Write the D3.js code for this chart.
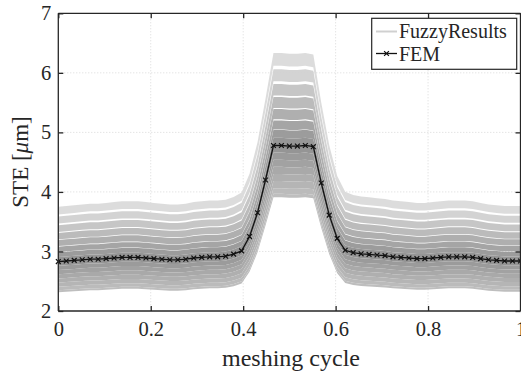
<html>
<head>
<meta charset="utf-8">
<title>STE fuzzy</title>
<script src="https://cdn.jsdelivr.net/npm/d3@7/dist/d3.min.js"></script>
<style>
  html, body { margin: 0; padding: 0; background: #fff; }
  svg text { font-family: "Liberation Serif", "Times New Roman", serif; fill: #262626; }
</style>
</head>
<body>
<svg width="521" height="376" id="mainsvg"></svg>
<script>
// FEM static transmission error over one meshing cycle (59 samples, 0..1)
const femSTE = [2.83,2.84,2.85,2.86,2.87,2.87,2.88,2.89,2.90,2.90,2.90,2.89,2.88,2.87,2.86,2.86,2.87,2.89,2.90,2.91,
                2.91,2.92,2.955,3.01,3.25,3.65,4.20,4.78,4.78,4.77,4.77,4.78,4.76,4.15,3.61,3.22,3.02,2.98,2.96,2.95,
                2.94,2.93,2.91,2.90,2.89,2.88,2.88,2.89,2.90,2.91,2.91,2.91,2.90,2.88,2.86,2.85,2.84,2.84,2.84];
// fuzzy result strips, as lower / upper factor of the FEM curve (outer -> inner)
const fuzzyLow  = [1.280,1.226,1.176,1.132,1.092,1.057,1.027,1.000, 0.975,0.950,0.925,0.900,0.875,0.850,0.830,0.818];
const fuzzyHigh = [1.325,1.268,1.216,1.170,1.128,1.088,1.055,1.027, 1.000,0.975,0.950,0.925,0.900,0.875,0.850,0.830];
const xTicks = [0, 0.2, 0.4, 0.6, 0.8, 1];
const yTicks = [2, 3, 4, 5, 6, 7];

const svg = d3.select('#mainsvg');
const x = d3.scaleLinear().domain([0, 1]).range([58.3, 520.5]);
const y = d3.scaleLinear().domain([2, 7]).range([311, 13.3]);
const cyc = femSTE.map((d, i) => i / (femSTE.length - 1));
const axisCol = '#262626';

// grid
const grid = svg.append('g');
grid.selectAll('.gx').data(xTicks.slice(1, -1)).join('line')
  .attr('x1', d => x(d)).attr('x2', d => x(d)).attr('y1', y(7)).attr('y2', y(2))
  .attr('stroke', '#d9d9d9').attr('stroke-width', 1).attr('stroke-dasharray', '1,2');
grid.selectAll('.gy').data(yTicks.slice(1, -1)).join('line')
  .attr('y1', d => y(d)).attr('y2', d => y(d)).attr('x1', x(0)).attr('x2', x(1))
  .attr('stroke', '#d9d9d9').attr('stroke-width', 1).attr('stroke-dasharray', '1,2');

// fuzzy strips
const shade = d3.scaleLinear().domain([0.02, 0.3]).range(['#8e8e8e', '#dadada']).clamp(true);
const strips = fuzzyLow.map((lo, k) => ({lo: lo, hi: fuzzyHigh[k]}));
const area = (s) => d3.area()
  .x((d, i) => x(cyc[i]))
  .y0(d => y(d * s.lo))
  .y1(d => y(d * s.hi))(femSTE);
svg.append('g').selectAll('path').data(strips).join('path')
  .attr('d', s => area(s))
  .attr('fill', s => shade(Math.max(Math.abs(s.lo - 1), Math.abs(s.hi - 1))))
  .attr('fill-opacity', 0.95);

// FEM curve
const line = d3.line().x((d, i) => x(cyc[i])).y(d => y(d));
svg.append('path').datum(femSTE).attr('d', line)
  .attr('fill', 'none').attr('stroke', '#111').attr('stroke-width', 1.3);
const cross = 'M-2.4,-2.4L2.4,2.4M-2.4,2.4L2.4,-2.4';
svg.append('g').selectAll('path').data(femSTE).join('path')
  .attr('transform', (d, i) => `translate(${x(cyc[i])},${y(d)})`)
  .attr('d', cross).attr('stroke', '#111').attr('stroke-width', 1.2).attr('fill', 'none');

// axes box
const xAxis = d3.axisBottom(x).tickValues(xTicks).tickSize(-5).tickPadding(10)
  .tickFormat(d => d === 0 ? '0' : d === 1 ? '1' : d3.format('.1f')(d));
const yAxis = d3.axisLeft(y).tickValues(yTicks).tickSize(-5).tickPadding(7).tickFormat(d3.format('d'));
const gx = svg.append('g').attr('transform', `translate(0,${y(2)})`).call(xAxis);
const gy = svg.append('g').attr('transform', `translate(${x(0)},0)`).call(yAxis);
const gxt = svg.append('g').attr('transform', `translate(0,${y(7)})`).call(d3.axisTop(x).tickValues(xTicks).tickSize(-5).tickFormat(''));
const gyr = svg.append('g').attr('transform', `translate(${x(1)},0)`).call(d3.axisRight(y).tickValues(yTicks).tickSize(-5).tickFormat(''));
[gx, gy, gxt, gyr].forEach(g => {
  g.select('.domain').attr('stroke', axisCol).attr('stroke-width', 1.3);
  g.selectAll('.tick line').attr('stroke', axisCol).attr('stroke-width', 1.3);
  g.selectAll('.tick text').attr('font-size', 20.5).attr('fill', axisCol)
    .style('font-family', '"Liberation Serif", serif');
});
gx.selectAll('.domain').attr('d', `M${x(0)},0H${x(1)}`);
gy.selectAll('.domain').attr('d', `M0,${y(2)}V${y(7)}`);
gxt.selectAll('.domain').attr('d', `M${x(0)},0H${x(1)}`);
gyr.selectAll('.domain').attr('d', `M0,${y(2)}V${y(7)}`);

// labels
svg.append('text').attr('x', 291).attr('y', 366).attr('text-anchor', 'middle')
  .attr('font-size', 24).text('meshing cycle');
const yl = svg.append('text').attr('transform', 'translate(28,162) rotate(-90)')
  .attr('text-anchor', 'middle').attr('font-size', 23);
yl.append('tspan').text('STE [');
yl.append('tspan').attr('font-style', 'italic').text('μ');
yl.append('tspan').text('m]');

// legend
const lg = svg.append('g');
lg.append('rect').attr('x', 371.7).attr('y', 18.3).attr('width', 145).attr('height', 51)
  .attr('fill', '#fff').attr('stroke', axisCol).attr('stroke-width', 1.2);
lg.append('line').attr('x1', 376).attr('x2', 397).attr('y1', 31.5).attr('y2', 31.5)
  .attr('stroke', '#d0d0d0').attr('stroke-width', 2);
lg.append('line').attr('x1', 376).attr('x2', 397).attr('y1', 53.5).attr('y2', 53.5)
  .attr('stroke', '#111').attr('stroke-width', 1.3);
lg.append('path').attr('transform', 'translate(386.5,53.5)').attr('d', cross)
  .attr('stroke', '#111').attr('stroke-width', 1.2);
lg.append('text').attr('x', 399).attr('y', 37.5).attr('font-size', 20).text('FuzzyResults');
lg.append('text').attr('x', 399).attr('y', 60.5).attr('font-size', 20).text('FEM');
</script>
</body>
</html>
